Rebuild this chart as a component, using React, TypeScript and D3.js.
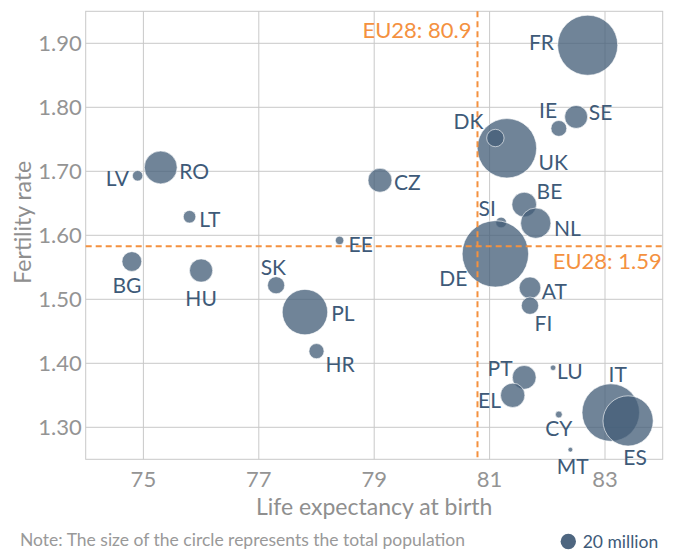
import { useEffect, useRef } from 'react'
import * as d3 from 'd3'

// EU member states: life expectancy at birth, fertility rate, population (millions)
const countries = ['FR', 'UK', 'DK', 'IE', 'SE', 'RO', 'LV', 'CZ', 'BE', 'LT', 'NL', 'SI', 'EE', 'DE', 'BG', 'HU', 'SK', 'AT', 'FI', 'PL', 'HR', 'PT', 'LU', 'EL', 'IT', 'CY', 'ES', 'MT']
const lifeExpectancy = [82.7, 81.3, 81.1, 82.2, 82.5, 75.3, 74.9, 79.1, 81.6, 75.8, 81.8, 81.2, 78.4, 81.1, 74.8, 76.0, 77.3, 81.7, 81.7, 77.8, 78.0, 81.6, 82.1, 81.4, 83.1, 82.2, 83.4, 82.4]
const fertility = [1.897, 1.736, 1.752, 1.767, 1.785, 1.706, 1.693, 1.686, 1.648, 1.629, 1.619, 1.62, 1.592, 1.571, 1.559, 1.545, 1.522, 1.518, 1.49, 1.48, 1.419, 1.378, 1.393, 1.35, 1.323, 1.32, 1.31, 1.265]
const population = [66.4, 64.9, 5.6, 4.6, 9.7, 19.9, 2.0, 10.5, 11.2, 2.9, 16.9, 2.1, 1.3, 81.2, 7.2, 9.9, 5.4, 8.6, 5.5, 38.0, 4.2, 10.4, 0.56, 10.9, 60.8, 0.85, 46.4, 0.43]

const xTicks = [75, 77, 79, 81, 83]
const yTicks = [1.3, 1.4, 1.5, 1.6, 1.7, 1.8, 1.9]

const eu28Life = 80.79
const eu28LifeLabel = 'EU28: 80.9'
const eu28Fertility = 1.583
const eu28FertilityLabel = 'EU28: 1.59'

// label placement around each bubble: [dx, dy (cap centre), anchor]
const labelPos: Record<string, [number, number, string]> = {
  FR: [-33.7, -3.3, 'end'],
  UK: [31.6, 13.7, 'start'],
  DK: [-12, -16.3, 'end'],
  IE: [-10.7, -18.3, 'middle'],
  SE: [12.6, -4.5, 'start'],
  RO: [18.6, 3.5, 'start'],
  LV: [-8.7, 2.6, 'end'],
  CZ: [14, 2, 'start'],
  BE: [12.4, -13.5, 'start'],
  LT: [9.7, 3, 'start'],
  NL: [18.3, 5.3, 'start'],
  SI: [-5.3, -14.4, 'end'],
  EE: [9, 3.5, 'start'],
  DE: [-28, 24.5, 'end'],
  BG: [-5, 24, 'middle'],
  HU: [0, 27.6, 'middle'],
  SK: [-2.8, -17.7, 'middle'],
  AT: [11.7, 3.7, 'start'],
  FI: [13.5, 17.6, 'middle'],
  PL: [26.3, 1.5, 'start'],
  HR: [9, 13.7, 'start'],
  PT: [-11.6, -9, 'end'],
  LU: [4, 4, 'start'],
  EL: [-11.7, 5.5, 'end'],
  IT: [7, -37.7, 'middle'],
  CY: [0, 14, 'middle'],
  ES: [7, 36.5, 'middle'],
  MT: [2.4, 16.7, 'middle'],
}

const FONT = 'Lato, "Open Sans", sans-serif'
const ORANGE = '#f4913f'
const GRID = '#c9c9c9'
const BUBBLE = '#435d77'
const LABEL = '#3e5a78'

export default () => {
  const rootRef = useRef<SVGSVGElement>(null)

  useEffect(() => {
    const width = 677,
      height = 551
    const margin = { top: 11.3, right: 14.3, bottom: 91.7, left: 85.7 }
    const innerW = width - margin.left - margin.right
    const innerH = height - margin.top - margin.bottom

    const root = d3.select(rootRef.current).attr('width', width).attr('height', height)
    root.selectAll('*').remove()

    const svg = root.append('g').attr('transform', 'translate(' + margin.left + ',' + margin.top + ')')

    const x = d3.scaleLinear().domain([74, 84]).range([0, innerW])
    const y = d3.scaleLinear().domain([1.25, 1.95]).range([innerH, 0])
    const r = d3.scaleSqrt().domain([0, 81.2]).range([0, 33.2])

    // frame and grid
    svg
      .append('rect')
      .attr('width', innerW)
      .attr('height', innerH)
      .attr('fill', 'none')
      .attr('stroke', GRID)
      .attr('stroke-width', 1)

    svg
      .append('g')
      .selectAll('line')
      .data(xTicks)
      .join('line')
      .attr('x1', (d) => x(d))
      .attr('x2', (d) => x(d))
      .attr('y1', 0)
      .attr('y2', innerH)
      .attr('stroke', GRID)

    svg
      .append('g')
      .selectAll('line')
      .data(yTicks)
      .join('line')
      .attr('x1', 0)
      .attr('x2', innerW)
      .attr('y1', (d) => y(d))
      .attr('y2', (d) => y(d))
      .attr('stroke', GRID)

    // tick labels
    svg
      .append('g')
      .selectAll('text')
      .data(xTicks)
      .join('text')
      .attr('x', (d) => x(d))
      .attr('y', innerH + 28)
      .attr('text-anchor', 'middle')
      .attr('font-family', FONT)
      .attr('font-size', 22)
      .attr('fill', '#949494')
      .text((d) => d)

    svg
      .append('g')
      .selectAll('text')
      .data(yTicks)
      .join('text')
      .attr('x', -4)
      .attr('y', (d) => y(d) + 8)
      .attr('text-anchor', 'end')
      .attr('font-family', FONT)
      .attr('font-size', 22)
      .attr('fill', '#949494')
      .text((d) => d.toFixed(2))

    // axis titles
    svg
      .append('text')
      .attr('x', innerW / 2)
      .attr('y', innerH + 56)
      .attr('text-anchor', 'middle')
      .attr('font-family', FONT)
      .attr('font-size', 23)
      .attr('fill', '#8f8f8f')
      .text('Life expectancy at birth')

    svg
      .append('text')
      .attr('transform', 'translate(' + (-margin.left + 31) + ',' + (y(1.62) - margin.top + 11) + ') rotate(-90)')
      .attr('text-anchor', 'middle')
      .attr('font-family', FONT)
      .attr('font-size', 23)
      .attr('fill', '#8f8f8f')
      .text('Fertility rate')

    const data = countries.map((c, i) => ({
      code: c,
      life: lifeExpectancy[i],
      fert: fertility[i],
      pop: population[i],
    }))

    // bubbles
    svg
      .append('g')
      .selectAll('circle')
      .data(data)
      .join('circle')
      .attr('cx', (d) => x(d.life))
      .attr('cy', (d) => y(d.fert))
      .attr('r', (d) => r(d.pop))
      .attr('fill', BUBBLE)
      .attr('fill-opacity', 0.76)
      .attr('stroke', '#ffffff')
      .attr('stroke-opacity', 0.6)
      .attr('stroke-width', 1)

    // EU28 reference lines
    svg
      .append('line')
      .attr('x1', x(eu28Life))
      .attr('x2', x(eu28Life))
      .attr('y1', 0)
      .attr('y2', innerH)
      .attr('stroke', ORANGE)
      .attr('stroke-width', 2)
      .attr('stroke-dasharray', '6,4')

    svg
      .append('line')
      .attr('x1', 0)
      .attr('x2', innerW)
      .attr('y1', y(eu28Fertility))
      .attr('y2', y(eu28Fertility))
      .attr('stroke', ORANGE)
      .attr('stroke-width', 2)
      .attr('stroke-dasharray', '6,4')

    svg
      .append('text')
      .attr('x', x(eu28Life) - 6)
      .attr('y', 26.5)
      .attr('text-anchor', 'end')
      .attr('font-family', FONT)
      .attr('font-size', 22)
      .attr('fill', ORANGE)
      .text(eu28LifeLabel)

    svg
      .append('text')
      .attr('x', innerW - 1)
      .attr('y', y(eu28Fertility) + 23)
      .attr('text-anchor', 'end')
      .attr('font-family', FONT)
      .attr('font-size', 22)
      .attr('fill', ORANGE)
      .text(eu28FertilityLabel)

    // country labels
    svg
      .append('g')
      .selectAll('text')
      .data(data)
      .join('text')
      .attr('x', (d) => x(d.life) + labelPos[d.code][0])
      .attr('y', (d) => y(d.fert) + labelPos[d.code][1] + 7.6)
      .attr('text-anchor', (d) => labelPos[d.code][2])
      .attr('font-family', FONT)
      .attr('font-size', 21)
      .attr('fill', LABEL)
      .text((d) => d.code)

    // footnote and size legend
    root
      .append('text')
      .attr('x', 20)
      .attr('y', 546)
      .attr('font-family', FONT)
      .attr('font-size', 17.5)
      .attr('fill', '#999999')
      .text('Note: The size of the circle represents the total population')

    root
      .append('circle')
      .attr('cx', 568.3)
      .attr('cy', 541.5)
      .attr('r', 7.7)
      .attr('fill', '#4e6680')

    root
      .append('text')
      .attr('x', 582.7)
      .attr('y', 547.5)
      .attr('font-family', FONT)
      .attr('font-size', 17.5)
      .attr('fill', LABEL)
      .text('20 million')
  }, [])

  return <svg ref={rootRef} style={{ position: 'absolute', left: 0, top: 0 }}></svg>
}
